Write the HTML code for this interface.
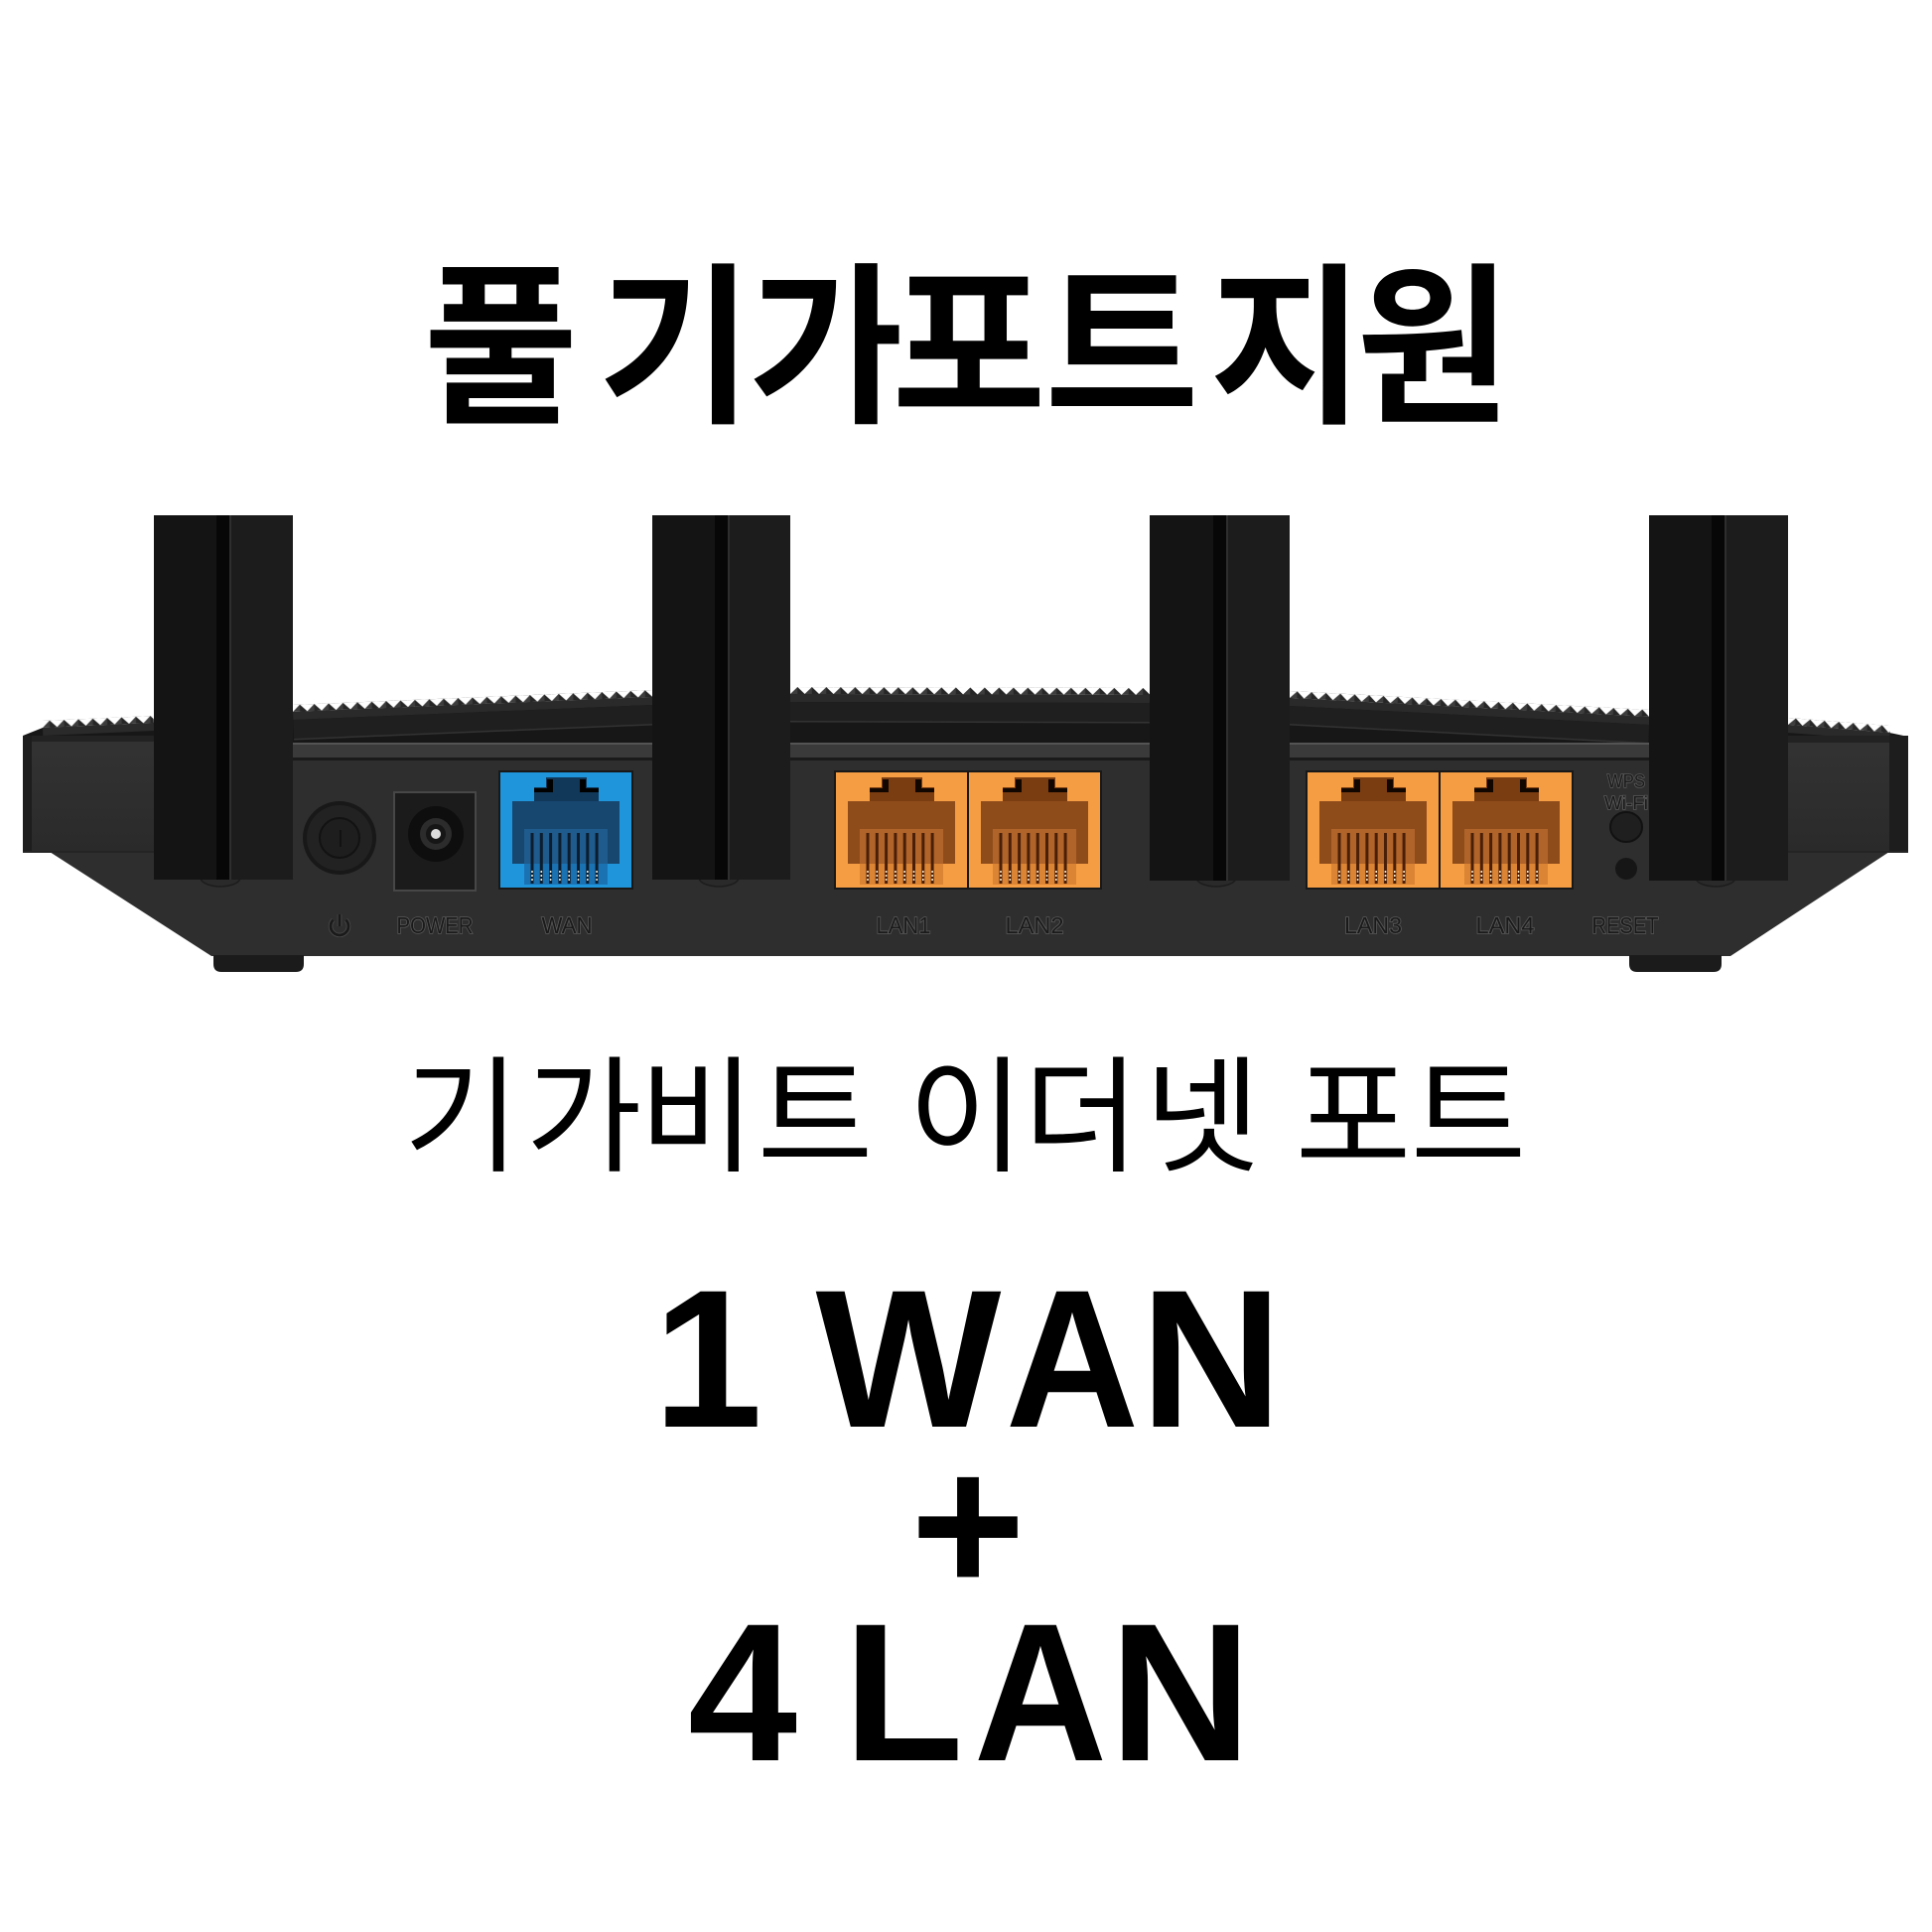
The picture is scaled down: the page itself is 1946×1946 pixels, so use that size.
<!DOCTYPE html>
<html><head><meta charset="utf-8">
<style>
html,body{margin:0;padding:0;background:#fff;}
svg{display:block}
</style></head><body>
<svg width="1946" height="1946" viewBox="0 0 1946 1946" xmlns="http://www.w3.org/2000/svg">
<defs>
 <pattern id="teeth" width="14.5" height="7" patternUnits="userSpaceOnUse">
   <path d="M0 7 L7.25 0 L14.5 7 Z" fill="#3d3d3d"/>
   <path d="M7.25 0 L14.5 7 L7.25 7 Z" fill="#262626"/>
 </pattern>
 <linearGradient id="blk" x1="0" y1="0" x2="0" y2="1">
   <stop offset="0" stop-color="#333"/><stop offset="1" stop-color="#2a2a2a"/>
 </linearGradient>
 <g id="pw">
   <rect width="134" height="118" fill="#1f96dc" stroke="#181818" stroke-width="2"/>
   <path d="M47,6H88V16H100V30H121V93H13V30H35V16H47Z" fill="#17466f"/>
   <path d="M47,6H88V16H100V30H35V16H47Z" fill="#113759"/>
   <rect x="48" y="8" width="6" height="13" fill="#000"/><rect x="35" y="17" width="19" height="4" fill="#000"/>
   <rect x="81" y="8" width="6" height="13" fill="#000"/><rect x="81" y="17" width="19" height="4" fill="#000"/>
   <rect x="25" y="58" width="84" height="35" fill="#1f5b8c"/>
   <rect x="25" y="93" width="84" height="21" fill="#1b72b2"/>
   <g stroke="#0b1d2e" stroke-width="3">
     <line x1="33" y1="62" x2="33" y2="113"/><line x1="42.3" y1="62" x2="42.3" y2="113"/><line x1="51.6" y1="62" x2="51.6" y2="113"/><line x1="60.9" y1="62" x2="60.9" y2="113"/>
     <line x1="70.2" y1="62" x2="70.2" y2="113"/><line x1="79.5" y1="62" x2="79.5" y2="113"/><line x1="88.8" y1="62" x2="88.8" y2="113"/><line x1="98.1" y1="62" x2="98.1" y2="113"/>
   </g>
   <g stroke="#f0e6d0" stroke-width="1.6" stroke-dasharray="2 2">
     <line x1="33" y1="100" x2="33" y2="112"/><line x1="42.3" y1="100" x2="42.3" y2="112"/><line x1="51.6" y1="100" x2="51.6" y2="112"/><line x1="60.9" y1="100" x2="60.9" y2="112"/>
     <line x1="70.2" y1="100" x2="70.2" y2="112"/><line x1="79.5" y1="100" x2="79.5" y2="112"/><line x1="88.8" y1="100" x2="88.8" y2="112"/><line x1="98.1" y1="100" x2="98.1" y2="112"/>
   </g>
 </g>
 <g id="pl">
   <rect width="134" height="118" fill="#f59d42" stroke="#181818" stroke-width="2"/>
   <path d="M47,6H88V16H100V30H121V93H13V30H35V16H47Z" fill="#8f4c1b"/>
   <path d="M47,6H88V16H100V30H35V16H47Z" fill="#7a3d12"/>
   <rect x="48" y="8" width="6" height="13" fill="#120600"/><rect x="35" y="17" width="19" height="4" fill="#120600"/>
   <rect x="81" y="8" width="6" height="13" fill="#120600"/><rect x="81" y="17" width="19" height="4" fill="#120600"/>
   <rect x="25" y="58" width="84" height="35" fill="#b0642a"/>
   <rect x="25" y="93" width="84" height="21" fill="#db8434"/>
   <g stroke="#4a1f08" stroke-width="3">
     <line x1="33" y1="62" x2="33" y2="113"/><line x1="42.3" y1="62" x2="42.3" y2="113"/><line x1="51.6" y1="62" x2="51.6" y2="113"/><line x1="60.9" y1="62" x2="60.9" y2="113"/>
     <line x1="70.2" y1="62" x2="70.2" y2="113"/><line x1="79.5" y1="62" x2="79.5" y2="113"/><line x1="88.8" y1="62" x2="88.8" y2="113"/><line x1="98.1" y1="62" x2="98.1" y2="113"/>
   </g>
   <g stroke="#f6ead6" stroke-width="1.6" stroke-dasharray="2 2">
     <line x1="33" y1="100" x2="33" y2="112"/><line x1="42.3" y1="100" x2="42.3" y2="112"/><line x1="51.6" y1="100" x2="51.6" y2="112"/><line x1="60.9" y1="100" x2="60.9" y2="112"/>
     <line x1="70.2" y1="100" x2="70.2" y2="112"/><line x1="79.5" y1="100" x2="79.5" y2="112"/><line x1="88.8" y1="100" x2="88.8" y2="112"/><line x1="98.1" y1="100" x2="98.1" y2="112"/>
   </g>
 </g>
</defs>

<rect width="1946" height="1946" fill="#fff"/>

<!-- Title -->
<g font-family="'Noto Sans CJK KR','Noto Sans CJK JP',sans-serif" font-weight="700" font-size="175" text-anchor="middle" fill="#000">
  <text transform="translate(504.5,412) scale(0.965,1)">풀</text>
  <text transform="translate(680,412) scale(0.965,1)">기</text>
  <text transform="translate(832,412) scale(0.965,1)">가</text>
  <text transform="translate(976,412) scale(0.965,1)">포</text>
  <text transform="translate(1130,412) scale(0.965,1)">트</text>
  <text transform="translate(1296,412) scale(0.965,1)">지</text>
  <text transform="translate(1444,412) scale(0.965,1)">원</text>
</g>

<!-- Router body -->
<polygon points="23,741 1922,741 1922,858 1903,858 1743,963 213,963 50,858 23,858" fill="#2e2e2e"/>
<polygon points="23,741 43,733 155,728 295,717 657,702 796,699 1158,700 1299,703 1661,722 1801,730 1903,738 1922,742 1922,748 23,748" fill="#171717"/>

<!-- ridge segments -->
<g transform="translate(43,733) rotate(-2.56)">
  <rect x="0" y="-7" width="112" height="7" fill="url(#teeth)"/>
  <rect x="0" y="0" width="112" height="8" fill="#2a2a2a"/>
</g>
<g transform="translate(295,717) rotate(-2.37)">
  <rect x="0" y="-7" width="363" height="7" fill="url(#teeth)"/>
  <rect x="0" y="0" width="363" height="8" fill="#2a2a2a"/>
  <rect x="0" y="8" width="363" height="20" fill="#1f1f1f"/>
  <rect x="0" y="27" width="363" height="1.5" fill="#333"/>
</g>
<g transform="translate(796,699) rotate(0.16)">
  <rect x="0" y="-7" width="362" height="7" fill="url(#teeth)"/>
  <rect x="0" y="0" width="362" height="8" fill="#2a2a2a"/>
  <rect x="0" y="8" width="362" height="20" fill="#1f1f1f"/>
  <rect x="0" y="27" width="362" height="1.5" fill="#333"/>
</g>
<g transform="translate(1299,703) rotate(3.0)">
  <rect x="0" y="-7" width="363" height="7" fill="url(#teeth)"/>
  <rect x="0" y="0" width="363" height="8" fill="#2a2a2a"/>
  <rect x="0" y="8" width="363" height="19" fill="#1f1f1f"/>
  <rect x="0" y="26" width="363" height="1.5" fill="#333"/>
</g>
<g transform="translate(1801,730) rotate(4.48)">
  <rect x="0" y="-7" width="103" height="7" fill="url(#teeth)"/>
  <rect x="0" y="0" width="103" height="8" fill="#2a2a2a"/>
</g>

<!-- panel band -->
<rect x="155" y="748" width="1646" height="15" fill="#3a3a3a"/>
<rect x="155" y="748" width="1646" height="2" fill="#545454"/>
<rect x="155" y="763" width="1646" height="3" fill="#1a1a1a"/>

<!-- end blocks -->
<rect x="23" y="741" width="132" height="117" fill="url(#blk)"/>
<rect x="23" y="741" width="132" height="6" fill="#222"/>
<rect x="23" y="741" width="9" height="117" fill="#1d1d1d"/>
<rect x="1801" y="741" width="121" height="117" fill="url(#blk)"/>
<rect x="1801" y="741" width="121" height="7" fill="#222"/>
<rect x="1903" y="741" width="19" height="117" fill="#1d1d1d"/>
<line x1="23" y1="858" x2="155" y2="858" stroke="#242424" stroke-width="2"/>
<line x1="1801" y1="858" x2="1922" y2="858" stroke="#242424" stroke-width="2"/>

<!-- feet -->
<path d="M215,962 H306 V971 Q306,979 298,979 H223 Q215,979 215,971 Z" fill="#1b1b1b"/>
<path d="M1641,962 H1734 V971 Q1734,979 1726,979 H1649 Q1641,979 1641,971 Z" fill="#1b1b1b"/>

<!-- power button -->
<circle cx="342" cy="844" r="37" fill="#181818"/>
<circle cx="342" cy="844" r="33" fill="#222"/>
<circle cx="342" cy="844" r="20" fill="#1e1e1e" stroke="#121212" stroke-width="2"/>
<line x1="343" y1="836" x2="343" y2="853" stroke="#121212" stroke-width="2"/>

<!-- power jack -->
<rect x="397" y="798" width="82" height="99" fill="#1b1b1b" stroke="#474747" stroke-width="2"/>
<circle cx="439" cy="840" r="28" fill="#0e0e0e"/>
<circle cx="439" cy="840" r="16" fill="#2c2c2c"/>
<circle cx="439" cy="840" r="10" fill="#161616"/>
<circle cx="439" cy="840" r="5" fill="#dcdcdc"/>

<!-- ports -->
<use href="#pw" x="503" y="777"/>
<use href="#pl" x="841" y="777"/>
<use href="#pl" x="975" y="777"/>
<use href="#pl" x="1316" y="777"/>
<use href="#pl" x="1450" y="777"/>

<!-- WPS / reset -->
<ellipse cx="1638" cy="833" rx="16" ry="15" fill="#1f1f1f" stroke="#111" stroke-width="2"/>
<circle cx="1638" cy="875" r="11" fill="#161616"/>

<!-- labels -->
<g font-family="'Liberation Sans',sans-serif" fill="#1a1a1a" stroke="#5a5a5a" stroke-width="1.6" paint-order="stroke" text-anchor="middle">
  <text x="438" y="940" font-size="23" textLength="77" lengthAdjust="spacingAndGlyphs">POWER</text>
  <text x="571" y="940" font-size="23" textLength="51" lengthAdjust="spacingAndGlyphs">WAN</text>
  <text x="910" y="940" font-size="23" textLength="55" lengthAdjust="spacingAndGlyphs">LAN1</text>
  <text x="1042" y="940" font-size="23" textLength="59" lengthAdjust="spacingAndGlyphs">LAN2</text>
  <text x="1383" y="940" font-size="23" textLength="58" lengthAdjust="spacingAndGlyphs">LAN3</text>
  <text x="1516" y="940" font-size="23" textLength="59" lengthAdjust="spacingAndGlyphs">LAN4</text>
  <text x="1637" y="940" font-size="23" textLength="67" lengthAdjust="spacingAndGlyphs">RESET</text>
  <text x="1638" y="793" font-size="18" textLength="38" lengthAdjust="spacingAndGlyphs">WPS</text>
  <text x="1638" y="815" font-size="18" textLength="44" lengthAdjust="spacingAndGlyphs">Wi-Fi</text>
</g>
<path d="M335.6,926.6 A9,9 0 1 0 348.4,926.6 M342,921 V933" fill="none" stroke="#4a4a4a" stroke-width="4.5"/>
<path d="M335.6,926.6 A9,9 0 1 0 348.4,926.6 M342,921 V933" fill="none" stroke="#1a1a1a" stroke-width="2.8"/>

<!-- antenna pivots -->
<ellipse cx="222" cy="884" rx="20" ry="9" fill="#2a2a2a" stroke="#1c1c1c" stroke-width="1.5"/>
<ellipse cx="724" cy="884" rx="20" ry="9" fill="#2a2a2a" stroke="#1c1c1c" stroke-width="1.5"/>
<ellipse cx="1225" cy="884" rx="20" ry="9" fill="#2a2a2a" stroke="#1c1c1c" stroke-width="1.5"/>
<ellipse cx="1728" cy="884" rx="20" ry="9" fill="#2a2a2a" stroke="#1c1c1c" stroke-width="1.5"/>

<!-- antennas -->
<g>
  <rect x="155" y="519" width="65" height="367" fill="#141414"/>
  <rect x="218" y="519" width="14" height="367" fill="#070707"/>
  <rect x="231" y="519" width="64" height="367" fill="#1c1c1c"/>
  <rect x="231" y="519" width="2" height="367" fill="#2e2e2e"/>

  <rect x="657" y="519" width="65" height="367" fill="#141414"/>
  <rect x="720" y="519" width="14" height="367" fill="#070707"/>
  <rect x="733" y="519" width="63" height="367" fill="#1c1c1c"/>
  <rect x="733" y="519" width="2" height="367" fill="#2e2e2e"/>

  <rect x="1158" y="519" width="65" height="368" fill="#141414"/>
  <rect x="1222" y="519" width="14" height="368" fill="#070707"/>
  <rect x="1235" y="519" width="64" height="368" fill="#1c1c1c"/>
  <rect x="1235" y="519" width="2" height="368" fill="#2e2e2e"/>

  <rect x="1661" y="519" width="65" height="368" fill="#141414"/>
  <rect x="1724" y="519" width="14" height="368" fill="#070707"/>
  <rect x="1737" y="519" width="64" height="368" fill="#1c1c1c"/>
  <rect x="1737" y="519" width="2" height="368" fill="#2e2e2e"/>
</g>

<!-- Subtitle -->
<g font-family="'Noto Sans CJK KR','Noto Sans CJK JP',sans-serif" font-weight="400" font-size="127" text-anchor="middle" fill="#000">
  <text x="465" y="1170">기</text>
  <text x="588" y="1170">가</text>
  <text x="702" y="1170">비</text>
  <text x="821" y="1170">트</text>
  <text x="973" y="1170">이</text>
  <text x="1089" y="1170">더</text>
  <text x="1211" y="1170">넷</text>
  <text x="1363" y="1170">포</text>
  <text x="1479" y="1170">트</text>
</g>

<!-- WAN / LAN -->
<g font-family="'Liberation Sans',sans-serif" font-weight="700" font-size="198" text-anchor="middle" fill="#000">
  <text x="713" y="1437">1</text>
  <text x="915" y="1437">W</text>
  <text transform="translate(1080,1437) scale(0.94,1)">A</text>
  <text x="1220" y="1437">N</text>
  <text x="975" y="1604">+</text>
  <text x="748" y="1773">4</text>
  <text x="910" y="1773">L</text>
  <text transform="translate(1048,1773) scale(0.94,1)">A</text>
  <text x="1189" y="1773">N</text>
</g>
</svg>
</body></html>
